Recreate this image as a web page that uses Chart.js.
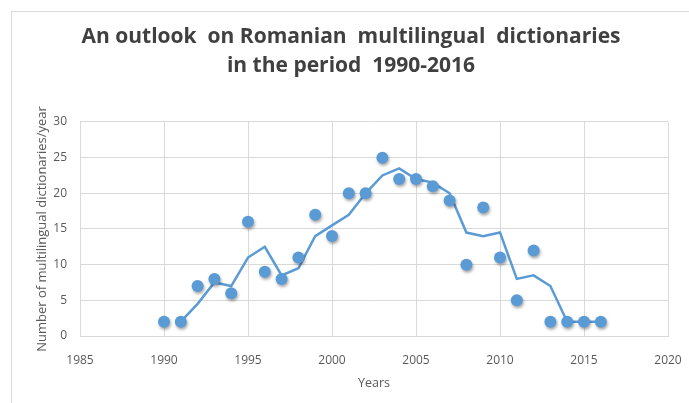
<!DOCTYPE html>
<html>
<head>
<meta charset="utf-8">
<script src="https://cdn.jsdelivr.net/npm/chart.js@4/dist/chart.umd.min.js"></script>
<style>
  html, body { margin: 0; padding: 0; background: #fff; }
  #wrap { position: relative; width: 689px; height: 403px; overflow: hidden; }
  #frame { position: absolute; left: 11px; top: 11px; width: 700px; height: 420px;
           border-top: 1px solid #d9d9d9; border-left: 1px solid #d9d9d9; }
  #chart { position: absolute; left: 0; top: 0; }
</style>
</head>
<body>
<div id="wrap">
  <div id="frame"></div>
  <canvas id="chart" width="689" height="403"></canvas>
</div>
<script>
const years = [1990, 1991, 1992, 1993, 1994, 1995, 1996, 1997, 1998, 1999, 2000, 2001, 2002, 2003,
  2004, 2005, 2006, 2007, 2008, 2009, 2010, 2011, 2012, 2013, 2014, 2015, 2016];
const counts = [2, 2, 7, 8, 6, 16, 9, 8, 11, 17, 14, 20, 20, 25,
  22, 22, 21, 19, 10, 18, 11, 5, 12, 2, 2, 2, 2];
// trend line (starts at 1991)
const trendYears = [1991, 1992, 1993, 1994, 1995, 1996, 1997, 1998, 1999, 2000, 2001, 2002, 2003,
  2004, 2005, 2006, 2007, 2008, 2009, 2010, 2011, 2012, 2013, 2014, 2015, 2016];
const trend = [2, 4.5, 7.5, 7, 11, 12.5, 8.5, 9.5, 14, 15.5, 17, 20, 22.5,
  23.5, 22, 21.5, 20, 14.5, 14, 14.5, 8, 8.5, 7, 2, 2, 2];

const titleLines = ['An outlook  on Romanian  multilingual  dictionaries', 'in the period  1990-2016'];
const blue = '#5b9bd5';
const gridColor = '#d9d9d9';
const textColor = '#595959';
const font = "'Open Sans', sans-serif";

const shadowPlugin = {
  id: 'shadow',
  beforeDatasetDraw(chart, args) {
    if (args.index === 1) {
      const ctx = chart.ctx;
      ctx.save();
      ctx.shadowColor = 'rgba(0,0,0,0.35)';
      ctx.shadowBlur = 3;
      ctx.shadowOffsetX = 1;
      ctx.shadowOffsetY = 2;
    }
  },
  afterDatasetDraw(chart, args) {
    if (args.index === 1) chart.ctx.restore();
  }
};

const ctx = document.getElementById('chart').getContext('2d');
new Chart(ctx, {
  type: 'scatter',
  data: {
    datasets: [
      {
        label: 'Trend',
        data: trendYears.map((y, i) => ({ x: y, y: trend[i] })),
        showLine: true,
        borderColor: blue,
        borderWidth: 2.5,
        pointRadius: 0,
        tension: 0,
        order: 2
      },
      {
        label: 'Dictionaries',
        data: years.map((y, i) => ({ x: y, y: counts[i] })),
        backgroundColor: blue,
        borderColor: blue,
        pointRadius: 6,
        pointBorderWidth: 0,
        order: 1
      }
    ]
  },
  options: {
    responsive: false,
    animation: false,
    layout: { padding: { left: 34, right: 21, top: 23, bottom: 12 } },
    plugins: {
      legend: { display: false },
      tooltip: { enabled: false },
      title: {
        display: true,
        text: titleLines,
        color: '#404040',
        font: { family: font, size: 21, weight: 'bold', lineHeight: 1.38 },
        padding: { top: 0, bottom: 41 }
      }
    },
    scales: {
      x: {
        type: 'linear',
        min: 1985,
        max: 2020,
        ticks: { stepSize: 5, color: textColor, font: { family: font, size: 12 }, padding: 4,
          callback: v => String(v) },
        grid: { color: gridColor, lineWidth: 1, drawTicks: true, tickLength: 13, tickColor: 'rgba(0,0,0,0)' },
        border: { color: gridColor },
        title: { display: true, text: 'Years', color: textColor,
          font: { family: font, size: 12.5 }, padding: { top: 4, bottom: 0 } },
        afterFit(scale) { scale.height = 55; }
      },
      y: {
        min: 0,
        max: 30,
        ticks: { stepSize: 5, color: textColor, font: { family: font, size: 12 }, padding: 13 },
        grid: { color: gridColor, lineWidth: 1, drawTicks: false },
        border: { color: gridColor },
        title: { display: true, text: 'Number of multilingual dictionaries/year', color: textColor,
          font: { family: font, size: 13 }, padding: { top: 0, bottom: 4 } },
        afterFit(scale) { scale.width = 46; }
      }
    }
  },
  plugins: [shadowPlugin]
});
</script>
</body>
</html>
